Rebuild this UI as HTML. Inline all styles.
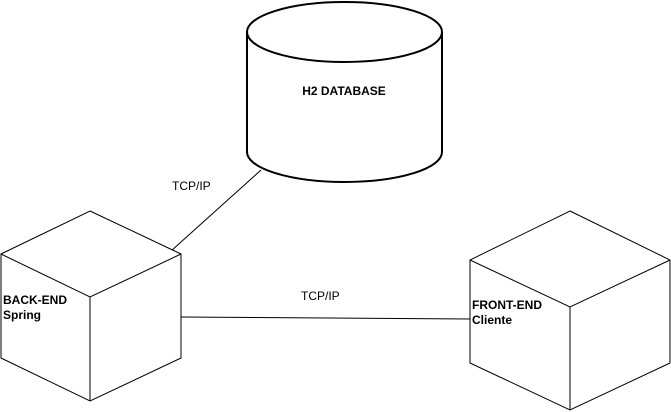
<!DOCTYPE html>
<html><head><meta charset="utf-8"><style>
html,body{margin:0;padding:0;background:#fff;width:671px;height:412px;overflow:hidden}
svg{display:block}
text{font-family:"Liberation Sans",Arial,sans-serif;font-size:12px;fill:#000}
</style></head><body>
<svg width="671" height="412" viewBox="0 0 671 412" xmlns="http://www.w3.org/2000/svg">
<g fill="none" stroke="#000">
<path d="M247,32 A97.5,30 0 0 1 442,32 L442,152 A97.5,30 0 0 1 247,152 Z" fill="#fff" stroke-width="2"/>
<path d="M247,32 A97.5,30 0 0 0 442,32" stroke-width="2"/>
<line x1="171" y1="251" x2="261" y2="170"/>
<line x1="181" y1="317" x2="470" y2="319"/>
<path d="M90,211 L181,254 L181,358 L90,401 L1,358 L1,254 Z" fill="#fff"/>
<path d="M1,254 L90,297 L181,254 M90,297 L90,401"/>
<path d="M570,211 L670,260 L670,363 L570,410 L470,363 L470,260 Z" fill="#fff"/>
<path d="M470,260 L570,307 L670,260 M570,307 L570,410"/>
</g>
<text x="344" y="95" text-anchor="middle" font-weight="bold">H2 DATABASE</text>
<text x="172" y="190">TCP/IP</text>
<text x="301" y="300">TCP/IP</text>
<text x="3" y="304" font-weight="bold">BACK-END</text>
<text x="3" y="319" font-weight="bold">Spring</text>
<text x="472" y="309" font-weight="bold">FRONT-END</text>
<text x="472" y="324" font-weight="bold">Cliente</text>
</svg>
</body></html>
